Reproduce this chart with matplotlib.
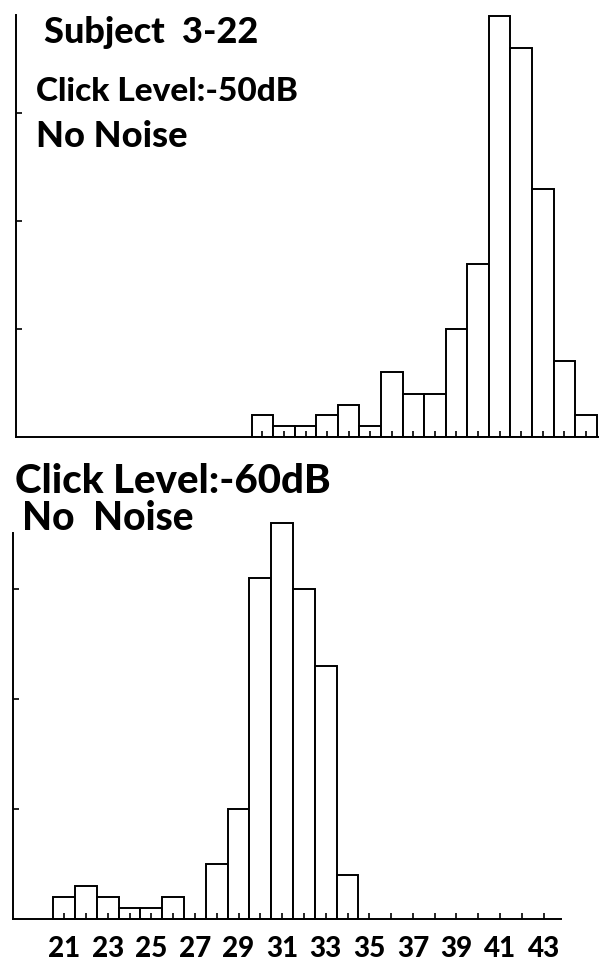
import matplotlib.pyplot as plt

plt.rcParams['font.family'] = ['Lato', 'DejaVu Sans']

# Response latency bins and counts, click level -50 dB
bins_50 = list(range(30, 46))
counts_50 = [2, 1, 1, 2, 3, 1, 6, 4, 4, 10, 16, 39, 36, 23, 7, 2]

# Response latency bins and counts, click level -60 dB
bins_60 = list(range(21, 35))
counts_60 = [2, 3, 2, 1, 1, 2, 0, 5, 10, 31, 36, 30, 23, 4]

x_ticks_minor = list(range(21, 44))
x_labels = list(range(21, 44, 2))
y_ticks = [10, 20, 30]

W, H = 599, 961
fig = plt.figure(figsize=(W / 100, H / 100), dpi=100)


def px_axes(left, bottom_y, right, top_y):
    # axes rectangle from pixel coords (y measured from top)
    return fig.add_axes([left / W, (H - bottom_y) / H,
                         (right - left) / W, (bottom_y - top_y) / H])


def style(ax):
    for s in ('top', 'right'):
        ax.spines[s].set_visible(False)
    for s in ('left', 'bottom'):
        ax.spines[s].set_linewidth(1.4)
    ax.tick_params(axis='both', which='both', direction='in',
                   width=1.2, length=4)
    ax.set_yticks(y_ticks)
    ax.set_yticklabels([])


# top panel
ax1 = px_axes(16, 437, 599, 15)
ax1.bar(bins_50, counts_50, width=1.0, facecolor='white',
        edgecolor='black', linewidth=1.4)
ax1.set_xlim(18.57, 45.61)
ax1.set_ylim(0, 39.07)
style(ax1)
ax1.set_xticks(bins_50)
ax1.set_xticklabels([])

# bottom panel
ax2 = px_axes(13, 919, 599, 501)
ax2.bar(bins_60, counts_60, width=1.0, facecolor='white',
        edgecolor='black', linewidth=1.4, clip_on=False)
ax2.set_xlim(18.65, 45.54)
ax2.set_ylim(0, 38)
style(ax2)
ax2.spines['left'].set_bounds(0, 35.1)
ax2.spines['bottom'].set_bounds(18.65, 43.8)
ax2.set_xticks(x_labels)
ax2.set_xticks(x_ticks_minor, minor=True)
ax2.set_xticklabels([str(v) for v in x_labels], fontsize=20,
                    fontweight='black')
ax2.tick_params(axis='x', which='major', pad=12)

# panel captions
def caption(x, y_base, s, size):
    fig.text(x / W, 1 - y_base / H, s, fontsize=size, fontweight='black',
             ha='left', va='baseline')


caption(44, 43, 'Subject  3-22', 26)
caption(36, 101, 'Click Level:-50dB', 24)
caption(36, 147, 'No Noise', 26)
caption(15, 493, 'Click Level:-60dB', 29)
caption(22, 530, 'No  Noise', 28)

fig.savefig('out.png', dpi=100, facecolor='white')
